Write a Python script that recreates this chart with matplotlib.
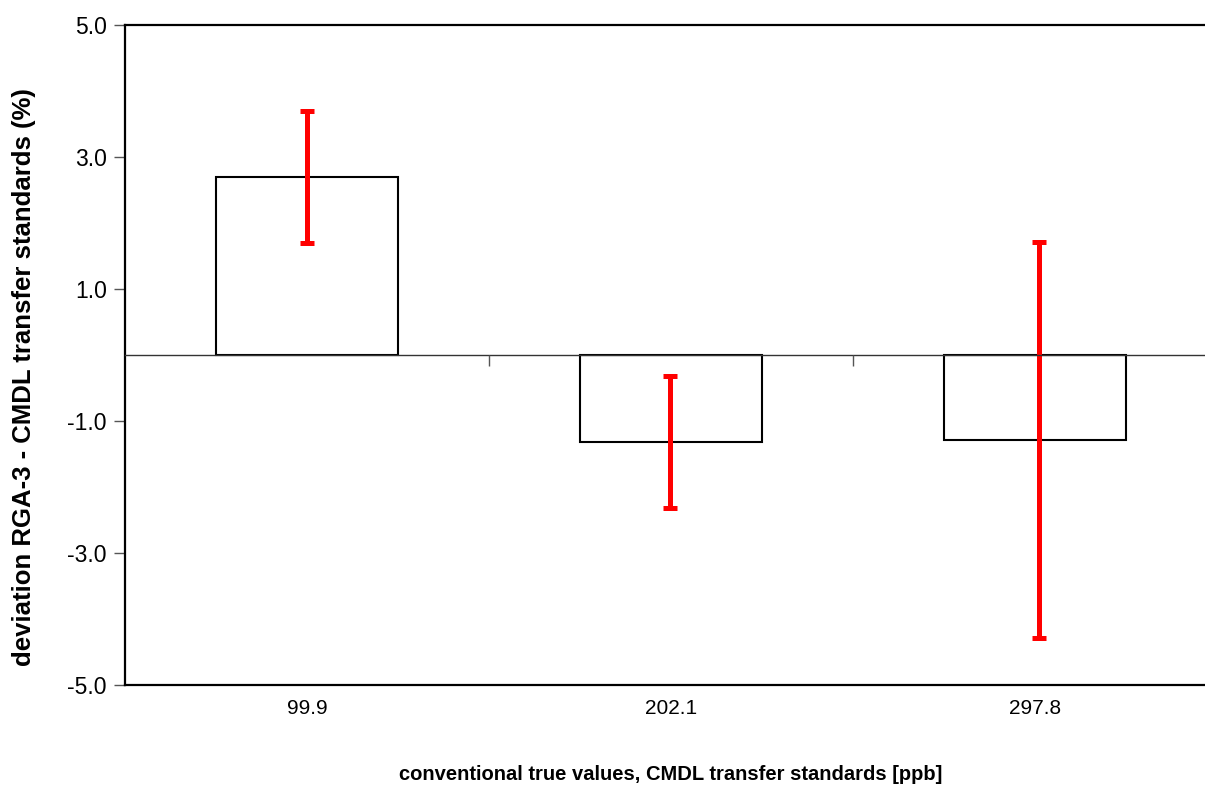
import matplotlib
matplotlib.use("Agg")
import matplotlib.pyplot as plt
import numpy as np

categories = ["99.9", "202.1", "297.8"]
deviation = [2.70, -1.32, -1.29]
uncertainty = [1.0, 1.0, 3.0]
yticks = [-5.0, -3.0, -1.0, 1.0, 3.0, 5.0]

plt.rcParams['font.family'] = ['Liberation Sans', 'DejaVu Sans']

fig = plt.figure(figsize=(12.05, 7.91), dpi=100)
W, H = 1205, 791
left, right, top, bottom = 125, 1217, 25, 685
ax = fig.add_axes([left / W, 1 - bottom / H, (right - left) / W, (bottom - top) / H])

x = np.arange(len(categories))
ax.bar(x, deviation, width=0.5, facecolor='white', edgecolor='black', linewidth=1.5, zorder=2)
err_offset = [0.0, -0.003, 0.012]
eb = ax.errorbar(x + np.array(err_offset), deviation, yerr=uncertainty, fmt='none',
                 ecolor='#ff0000', elinewidth=3.6, capsize=4.8, capthick=3.6, zorder=3)
for cap in eb[1]:
    cap.set_solid_capstyle('round')

ax.set_xlim(-0.5, len(categories) - 0.5)
ax.set_ylim(-5, 5)
ax.set_yticks(yticks)
ax.set_yticklabels([f"{v:.1f}" for v in yticks], fontsize=16.5)
ax.set_xticks(x)
ax.set_xticklabels(categories, fontsize=15)
ax.tick_params(axis='x', length=0, pad=10)
ax.tick_params(axis='y', length=8, width=1, color='#555555', pad=5, direction='out')

for s in ['left', 'bottom', 'top']:
    ax.spines[s].set_linewidth(1.6)
ax.spines['right'].set_visible(False)

# zero axis with category-boundary ticks
ax2 = ax.twiny()
ax2.set_xlim(ax.get_xlim())
for s in ['left', 'right', 'top']:
    ax2.spines[s].set_visible(False)
ax2.spines['bottom'].set_position(('data', 0))
ax2.spines['bottom'].set_linewidth(1.0)
ax2.spines['bottom'].set_color('#333333')
ax2.spines['bottom'].set_zorder(1)
ax2.xaxis.set_ticks_position('bottom')
ax2.set_xticks(x[:-1] + 0.5)
ax2.set_xticklabels([])
ax2.tick_params(axis='x', direction='out', length=8, width=1.0, color='#555555')

ax.set_xlabel("conventional true values, CMDL transfer standards [ppb]",
              fontsize=14.5, fontweight='bold')
ax.xaxis.set_label_coords(0.5, -(775 - 685) / (bottom - top))
ax.xaxis.label.set_va('center')
ax.set_ylabel("deviation RGA-3 - CMDL transfer standards (%)",
              fontsize=18.5, fontweight='bold')
ax.yaxis.set_label_coords((24 - left) / (right - left), 1 - (377 - top) / (bottom - top))
ax.yaxis.label.set_va('center')

fig.savefig("out.png", dpi=100)
